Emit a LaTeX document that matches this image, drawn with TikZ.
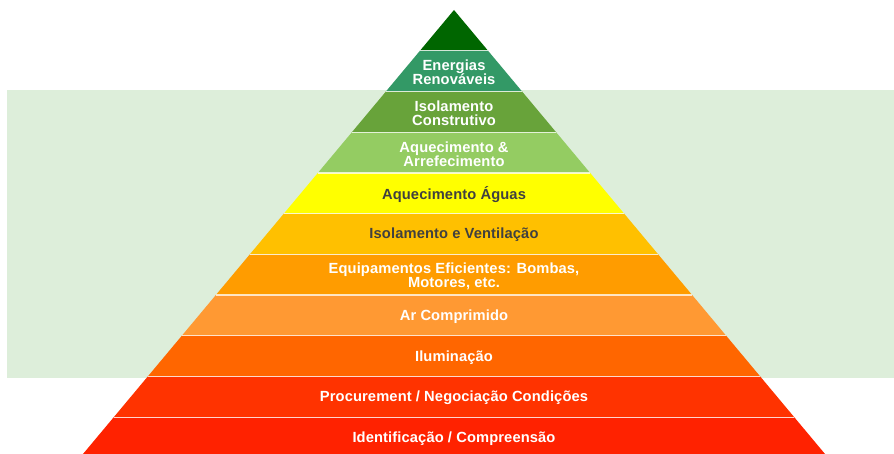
\documentclass[tikz,border=0pt]{standalone}
\usepackage{fontspec}
\setmainfont{Liberation Sans}
\definecolor{bgpanel}{RGB}{221,238,218}
\definecolor{darktext}{RGB}{64,64,64}
\definecolor{lvA}{RGB}{0,102,0}
\definecolor{lvB}{RGB}{51,153,102}
\definecolor{lvC}{RGB}{104,163,58}
\definecolor{lvD}{RGB}{148,204,98}
\definecolor{lvE}{RGB}{255,255,0}
\definecolor{lvF}{RGB}{255,192,0}
\definecolor{lvG}{RGB}{255,156,0}
\definecolor{lvH}{RGB}{255,153,51}
\definecolor{lvI}{RGB}{255,102,0}
\definecolor{lvJ}{RGB}{255,51,0}
\definecolor{lvK}{RGB}{255,34,0}
\begin{document}
\begin{tikzpicture}[x=1pt,y=-1pt,
  lbl/.style={font=\fontsize{14.7}{14}\selectfont\bfseries\addfontfeature{LetterSpace=0.8}, align=center, text=white, inner sep=0pt},
  darklbl/.style={lbl, text=darktext},
  seam/.style={draw=white, line width=1.3pt, opacity=0.75}]
\useasboundingbox (0,0) rectangle (894,454);
\clip (0,0) rectangle (894,454);
% light panel behind the middle tiers
\fill[bgpanel] (7,90) rectangle (894,378);
% pyramid tiers, top to bottom
\foreach \k/\col in {0/lvA,1/lvB,2/lvC,3/lvD,4/lvE,5/lvF,6/lvG,7/lvH,8/lvI,9/lvJ,10/lvK}{
  \pgfmathsetmacro\yt{10+40.73*\k}
  \pgfmathsetmacro\yb{\yt+40.73}
  \pgfmathsetmacro\wt{0.8356*(\yt-10)}
  \pgfmathsetmacro\wb{0.8356*(\yb-10)}
  \fill[\col] (454-\wt,\yt) -- (454+\wt,\yt) -- (454+\wb,\yb) -- (454-\wb,\yb) -- cycle;
}
% seams between tiers
\foreach \k in {1,...,10}{
  \pgfmathsetmacro\ys{10+40.73*\k}
  \pgfmathsetmacro\ws{0.8356*(\ys-10)}
  \draw[seam] (454-\ws,\ys) -- (454+\ws,\ys);
}
% tier labels
\node[lbl]     (t1)  at (454, 72.3)  {Energias\\Renováveis};
\node[lbl]     (t2)  at (454,113.0)  {Isolamento\\Construtivo};
\node[lbl]     (t3)  at (454,153.8)  {Aquecimento \&\\Arrefecimento};
\node[darklbl] (t4)  at (454,194.5)  {Aquecimento Águas};
\node[darklbl] (t5)  at (454,235.2)  {Isolamento e Ventilação};
\node[lbl]     (t6)  at (454,275.9)  {Equipamentos Eficientes: Bombas,\\Motores, etc.};
\node[lbl]     (t7)  at (454,316.7)  {Ar Comprimido};
\node[lbl]     (t8)  at (454,357.4)  {Iluminação};
\node[lbl]     (t9)  at (454,398.1)  {Procurement / Negociação Condições};
\node[lbl]     (t10) at (454,438.9)  {Identificação / Compreensão};
\end{tikzpicture}
\end{document}
